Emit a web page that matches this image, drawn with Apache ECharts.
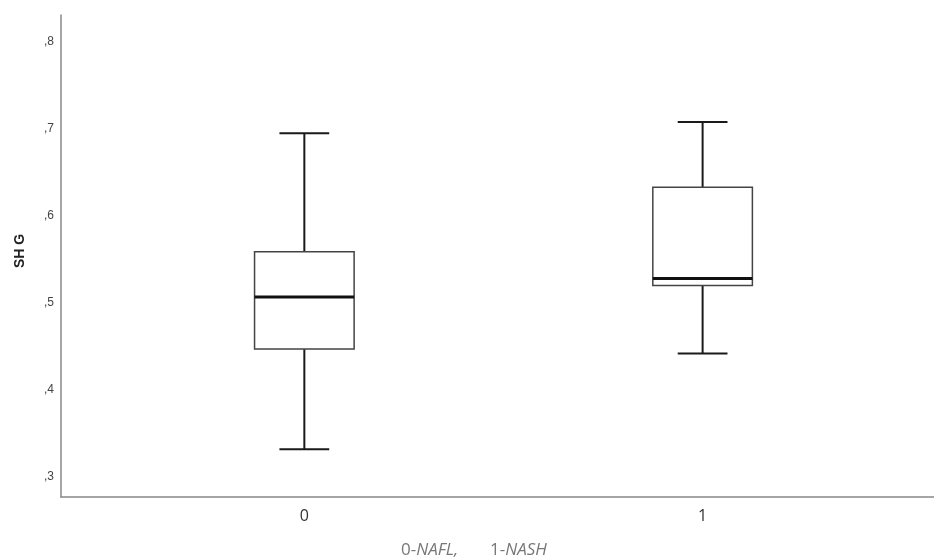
<!DOCTYPE html>
<html>
<head>
<meta charset="utf-8">
<script src="https://cdn.jsdelivr.net/npm/echarts@6/dist/echarts.min.js"></script>
<style>
  html, body { margin: 0; padding: 0; background: #fff; }
  #chart { width: 934px; height: 558px; }
</style>
</head>
<body>
<div id="chart"></div>
<script>
// Group codes on the x axis (0 = NAFL, 1 = NASH)
const groups = [0, 1];
// Five-number summaries of SH G per group
const whiskerLow = [0.332, 0.442];
const q1 = [0.447, 0.520];
const median = [0.507, 0.528];
const q3 = [0.559, 0.633];
const whiskerHigh = [0.695, 0.708];
// Tick values shown on the y axis
const yTicks = [0.3, 0.4, 0.5, 0.6, 0.7, 0.8];

const boxData = groups.map((g, i) => [g, whiskerLow[i], q1[i], median[i], q3[i], whiskerHigh[i]]);

const BOX_W = 0.25;   // box width in x-axis units
const CAP_W = 0.125;  // whisker cap width in x-axis units

function renderBox(params, api) {
  const x = api.value(0);
  const pLow = api.coord([x, api.value(1)]);
  const pQ1 = api.coord([x, api.value(2)]);
  const pMed = api.coord([x, api.value(3)]);
  const pQ3 = api.coord([x, api.value(4)]);
  const pHigh = api.coord([x, api.value(5)]);
  const halfBox = api.size([BOX_W, 0])[0] / 2;
  const halfCap = api.size([CAP_W, 0])[0] / 2;
  const cx = pMed[0];
  const lineStyle = { stroke: '#1a1a1a', lineWidth: 2, fill: null };
  return {
    type: 'group',
    children: [
      { type: 'line', shape: { x1: cx, y1: pQ3[1], x2: cx, y2: pHigh[1] }, style: lineStyle },
      { type: 'line', shape: { x1: cx, y1: pQ1[1], x2: cx, y2: pLow[1] }, style: lineStyle },
      { type: 'line', shape: { x1: cx - halfCap, y1: pHigh[1], x2: cx + halfCap, y2: pHigh[1] }, style: lineStyle },
      { type: 'line', shape: { x1: cx - halfCap, y1: pLow[1], x2: cx + halfCap, y2: pLow[1] }, style: lineStyle },
      {
        type: 'rect',
        shape: { x: cx - halfBox, y: pQ3[1], width: halfBox * 2, height: pQ1[1] - pQ3[1] },
        style: { fill: '#fff', stroke: '#444', lineWidth: 1.5 }
      },
      { type: 'line', shape: { x1: cx - halfBox, y1: pMed[1], x2: cx + halfBox, y2: pMed[1] }, style: { stroke: '#111', lineWidth: 3 } }
    ]
  };
}

const captionStyle = {
  n: { fontFamily: 'Open Sans', fontSize: 17, fill: '#777' },
  i: { fontFamily: 'Open Sans', fontStyle: 'italic', fontSize: 17, fill: '#777' }
};

const chart = echarts.init(document.getElementById('chart'), null, { renderer: 'canvas' });
chart.setOption({
  animation: false,
  backgroundColor: '#fff',
  grid: { left: 61, top: 15, right: 0, bottom: 61 },
  xAxis: {
    type: 'value',
    min: -0.611,
    max: 1.581,
    splitLine: { show: false },
    axisLine: { show: true, onZero: false, lineStyle: { color: '#888', width: 1.5 } },
    axisTick: { show: false },
    axisLabel: {
      customValues: groups,
      formatter: v => String(v),
      color: '#333',
      fontFamily: 'Open Sans',
      fontSize: 16,
      margin: 11
    }
  },
  yAxis: {
    type: 'value',
    min: 0.277,
    max: 0.831,
    name: 'SH G',
    nameLocation: 'middle',
    nameGap: 34,
    nameRotate: 90,
    nameTextStyle: { fontFamily: 'Liberation Sans', fontWeight: 'bold', fontSize: 14, color: '#222', padding: [0, 0, 0, 10] },
    splitLine: { show: false },
    axisLine: { show: true, onZero: false, lineStyle: { color: '#888', width: 1.5 } },
    axisTick: { show: false },
    axisLabel: {
      customValues: yTicks,
      formatter: v => ',' + Math.round(v * 10),
      color: '#444',
      fontFamily: 'Liberation Sans',
      fontSize: 12,
      margin: 7
    }
  },
  graphic: [
    {
      type: 'text',
      left: 401,
      top: 542,
      style: { text: '{n|0-}{i|NAFL,}', rich: captionStyle }
    },
    {
      type: 'text',
      left: 490,
      top: 542,
      style: { text: '{n|1-}{i|NASH}', rich: captionStyle }
    }
  ],
  series: [{
    type: 'custom',
    renderItem: renderBox,
    encode: { x: 0, y: [1, 2, 3, 4, 5] },
    data: boxData
  }]
});
</script>
</body>
</html>
